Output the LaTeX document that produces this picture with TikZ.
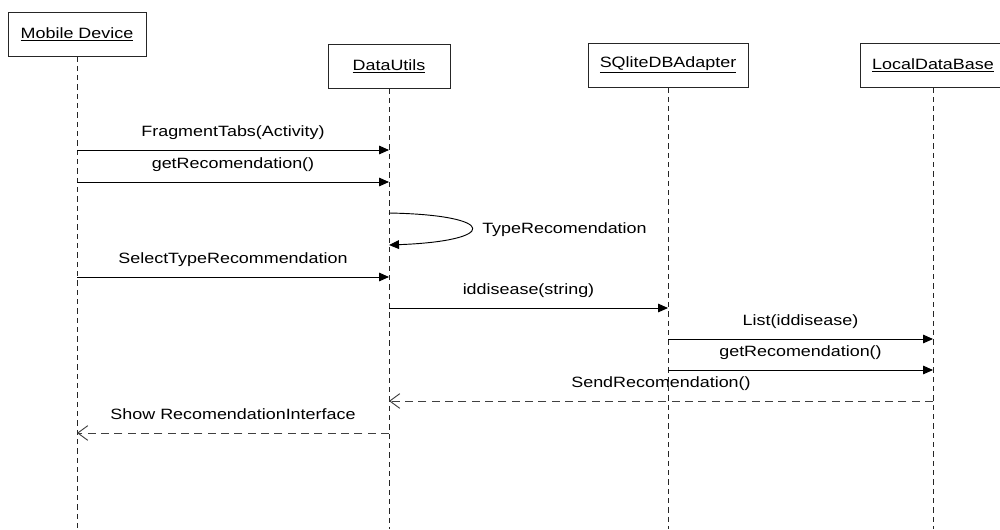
\documentclass[tikz,border=0pt]{standalone}
\usepackage{fontspec}
\setmainfont[FakeStretch=1.2]{Liberation Sans}
\usetikzlibrary{arrows.meta}

\begin{document}
\begin{tikzpicture}[x=0.75pt, y=-0.75pt, every node/.style={font=\fontsize{11.2}{13}\selectfont},
  obj/.style={draw=black!85,line width=0.7pt,minimum height=33pt,inner sep=0pt},
  life/.style={black!85,line width=0.7pt,dash pattern=on 4pt off 3pt},
  call/.style={-{Triangle[length=7.5pt,width=6.5pt]},line width=0.7pt},
  reply/.style={-{Straight Barb[length=7.5pt,width=11pt]},line width=0.7pt,black!75,dash pattern=on 6pt off 4pt},
  lbl/.style={midway,anchor=base,inner sep=0pt,yshift=10.5pt,text=black}]
\useasboundingbox (0,0) rectangle (1000,529);

% objects
\node[obj,minimum width=103.5pt] (mob) at (77,34) {\underline{Mobile Device}};
\node[obj,minimum width=91.5pt] (du) at (389,66) {\underline{DataUtils}};
\node[obj,minimum width=120pt] (sql) at (668,65) {\underline{SQliteDBAdapter}};
\node[obj,minimum width=109.5pt] (ldb) at (933,65) {\underline{LocalDataBase}};

% lifelines
\coordinate (bot) at (0,529);
\foreach \o in {mob,du,sql,ldb}
  \draw[life] (\o.south) -- (\o |- bot);

% message rows
\coordinate (r1) at (0,150);
\coordinate (r2) at (0,182);
\coordinate (s1) at (0,213);
\coordinate (s2) at (0,245);
\coordinate (r3) at (0,277);
\coordinate (r4) at (0,308);
\coordinate (r5) at (0,339);
\coordinate (r6) at (0,370);
\coordinate (r7) at (0,401);
\coordinate (r8) at (0,433);

\draw[call] (mob |- r1) -- (du |- r1) node[lbl] {FragmentTabs(Activity)};
\draw[call] (mob |- r2) -- (du |- r2) node[lbl] {getRecomendation()};
\draw[call] (du |- s1) .. controls +(110,2) and +(110,-4) .. (du |- s2);
\node[anchor=base west,inner sep=0pt] (tr) at (482,233) {TypeRecomendation};
\draw[call] (mob |- r3) -- (du |- r3) node[lbl] {SelectTypeRecommendation};
\draw[call] (du |- r4) -- (sql |- r4) node[lbl] {iddisease(string)};
\draw[call] (sql |- r5) -- (ldb |- r5) node[lbl] {List(iddisease)};
\draw[call] (sql |- r6) -- (ldb |- r6) node[lbl] {getRecomendation()};
\draw[reply] (ldb |- r7) -- (du |- r7) node[lbl,yshift=-0.5pt] {SendRecomendation()};
\draw[reply] (du |- r8) -- (mob |- r8) node[lbl] {Show RecomendationInterface};
\end{tikzpicture}
\end{document}
